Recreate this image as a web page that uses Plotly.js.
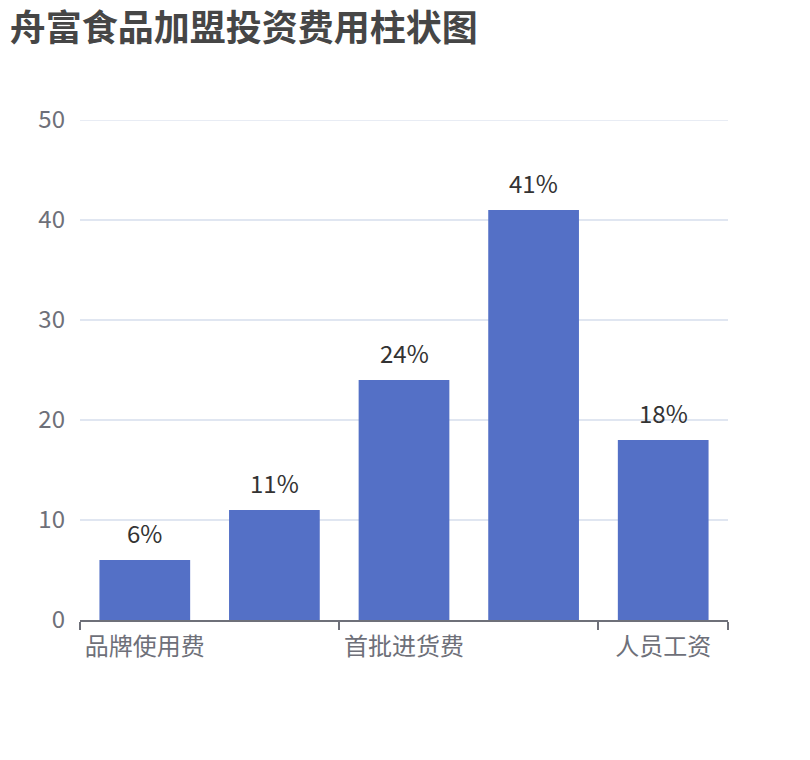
<!DOCTYPE html>
<html>
<head>
<meta charset="utf-8">
<script src="https://cdn.plot.ly/plotly-3.0.1.min.js"></script>
<style>
  body { margin: 0; background: #fff; }
  #myChart { width: 810px; height: 760px; }
</style>
</head>
<body>
<div id="myChart"></div>
<script>
// data
var categories = ['品牌使用费', '店面装修费', '首批进货费', '设备购置费', '人员工资'];
var values = [6, 11, 24, 41, 18];
var shownLabels = ['品牌使用费', '首批进货费', '人员工资'];

var font = '"Noto Sans CJK SC", "Noto Sans", sans-serif';
var grey = '#6e7079';

var bars = {
  x: categories,
  y: values,
  type: 'bar',
  marker: { color: '#5470c6' },
  hoverinfo: 'x+y'
};

// invisible trace so the boundary-tick axis exists
var boundary = {
  x: [-0.5, 4.5],
  y: [0, 0],
  xaxis: 'x2',
  mode: 'markers',
  marker: { opacity: 0 },
  hoverinfo: 'skip',
  showlegend: false
};

// value labels above the bars
var labels = categories.map(function (c, i) {
  return {
    x: c,
    y: values[i],
    xref: 'x',
    yref: 'y',
    text: values[i] + '%',
    showarrow: false,
    yanchor: 'bottom',
    yshift: 8,
    font: { size: 24, color: '#333', family: font }
  };
});

var layout = {
  width: 810,
  height: 760,
  margin: { l: 80, r: 82, t: 120, b: 140 },
  paper_bgcolor: '#fff',
  plot_bgcolor: '#fff',
  showlegend: false,
  bargap: 0.3,
  title: {
    text: '<b>舟富食品加盟投资费用柱状图</b>',
    font: { size: 36, color: '#464646', family: font },
    x: 0.012,
    xanchor: 'left',
    xref: 'container',
    y: 0.962,
    yanchor: 'middle',
    yref: 'container'
  },
  annotations: labels,
  shapes: [{
    type: 'line', xref: 'paper', yref: 'y',
    x0: 0, x1: 1, y0: 50, y1: 50,
    line: { color: '#e0e6f1', width: 1.5 },
    layer: 'below'
  }],
  xaxis: {
    type: 'category',
    tickvals: shownLabels,
    ticktext: shownLabels,
    ticks: '',
    showgrid: false,
    showline: false,
    zeroline: false,
    tickfont: { size: 24, color: grey, family: font },
    ticklabelstandoff: 10
  },
  xaxis2: {
    overlaying: 'x',
    range: [-0.5, 4.5],
    tickvals: [-0.5, 1.5, 3.5, 4.5],
    showticklabels: false,
    ticks: 'outside',
    ticklen: 8,
    tickwidth: 1.5,
    tickcolor: grey,
    showline: true,
    linecolor: grey,
    linewidth: 2,
    showgrid: false,
    zeroline: false,
    side: 'bottom',
    anchor: 'y'
  },
  yaxis: {
    range: [0, 50],
    tickvals: [0, 10, 20, 30, 40, 50],
    showgrid: true,
    gridcolor: '#e0e6f1',
    gridwidth: 1.5,
    zeroline: false,
    showline: false,
    ticks: '',
    tickfont: { size: 24, color: grey, family: font },
    ticklabelstandoff: 14
  }
};

Plotly.newPlot('myChart', [bars, boundary], layout, { displayModeBar: false });
</script>
</body>
</html>
